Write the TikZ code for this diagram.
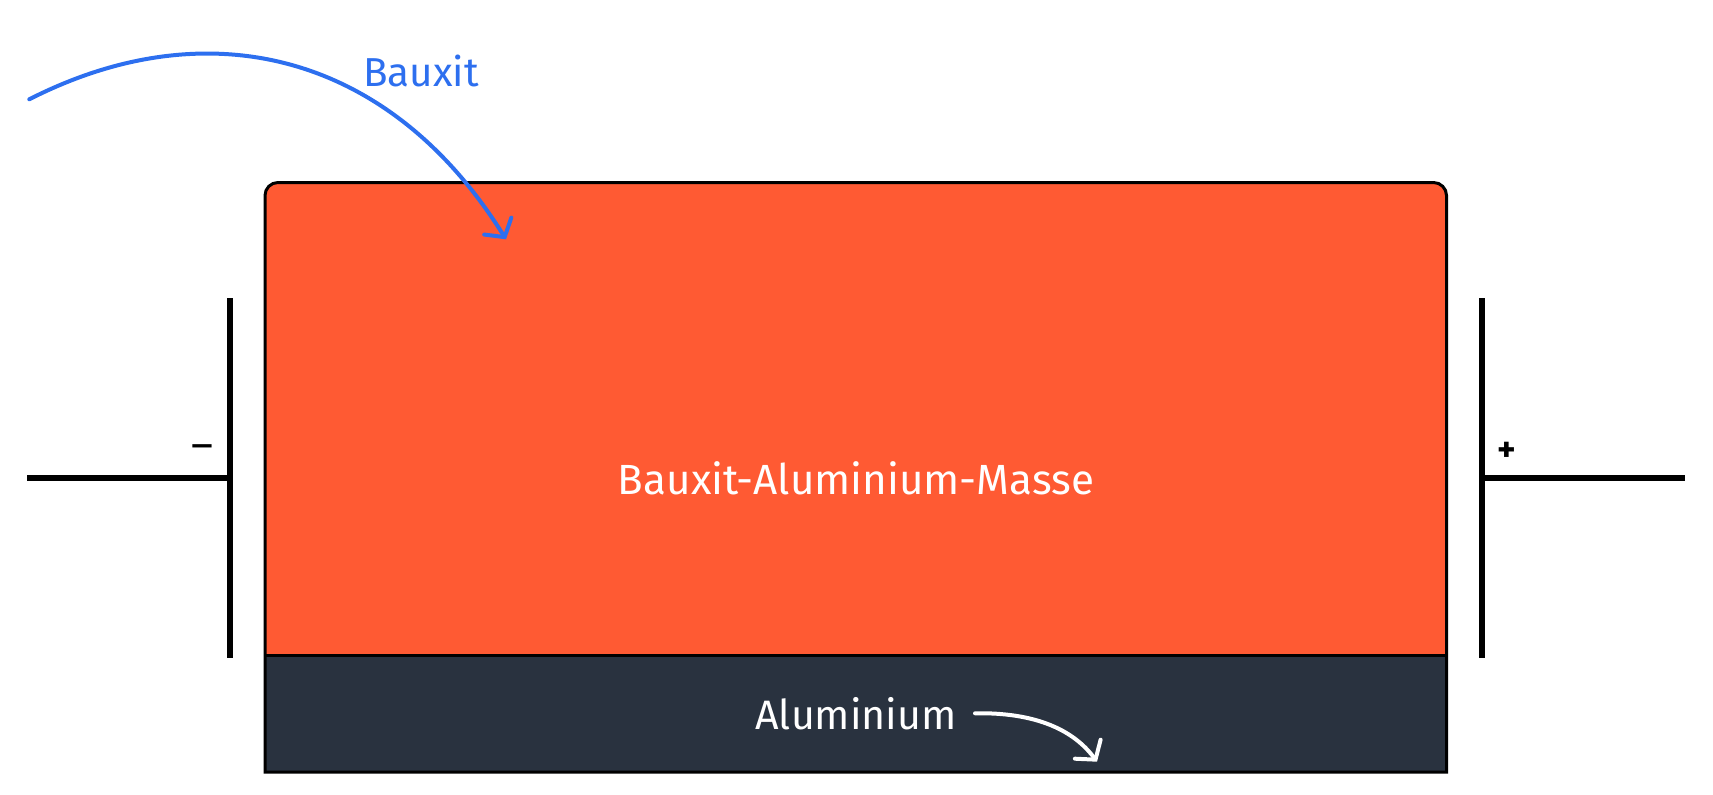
\documentclass[tikz,border=0pt]{standalone}
\usepackage{fontspec}
\setmainfont{Fira Sans}
\usepackage{tikz}
\usetikzlibrary{arrows.meta, positioning}
\definecolor{Melt}{HTML}{FF5A33}
\definecolor{Metal}{HTML}{29323F}
\definecolor{Feed}{HTML}{2D6FEF}

\begin{document}
\begin{tikzpicture}[>={Straight Barb[length=1.3mm, width=3.2mm, line cap=round]},
  electrode/.style={line width=0.06cm},
  flow/.style={->, line width=0.04cm, line cap=round},
  label/.style={inner sep=0pt, font=\fontsize{12}{14}\selectfont}]
  \useasboundingbox (0,0) rectangle (17.13,-7.94);

  % cell: melt on top, aluminium at the bottom
  \fill[Melt] (2.65,-6.555) [rounded corners=0.13cm] -- (2.65,-1.825)
    -- (14.465,-1.825) [sharp corners] -- (14.465,-6.555) -- cycle;
  \fill[Metal] (2.65,-7.72) rectangle (14.465,-6.555);
  \draw[line width=0.03cm] (2.65,-7.72) [rounded corners=0.13cm] -- (2.65,-1.825)
    -- (14.465,-1.825) [sharp corners] -- (14.465,-7.72) -- cycle;
  \draw[line width=0.03cm] (2.65,-6.555) -- (14.465,-6.555);

  % electrodes
  \coordinate (cathtop) at (2.30,-2.98);
  \coordinate (cathbot) at (2.30,-6.58);
  \coordinate (cathmid) at (2.30,-4.78);
  \coordinate (cathlead) at (0.27,-4.78);
  \coordinate (anotop) at (14.82,-2.98);
  \coordinate (anobot) at (14.82,-6.58);
  \coordinate (anomid) at (14.82,-4.78);
  \coordinate (anolead) at (16.85,-4.78);
  \draw[electrode] (cathtop) -- (cathbot);
  \draw[electrode] (cathlead) -- (cathmid);
  \draw[electrode] (anotop) -- (anobot);
  \draw[electrode] (anomid) -- (anolead);
  \node[font=\fontsize{12}{12}\selectfont] (minus) at (2.02,-4.52) {–};
  \node[font=\bfseries\fontsize{10}{12}\selectfont] (plus) at (15.07,-4.52) {+};

  % texts
  \node[label, white] (mass) at (8.56,-4.785) {Bauxit-Aluminium-Masse};
  \node[label, white, font=\fontsize{11.7}{13}\selectfont] (alu) at (8.56,-7.137) {Aluminium};
  \node[label, Feed, font=\fontsize{11.5}{13}\selectfont] (feed) at (4.21,-0.708) {Bauxit};

  % arrows
  \coordinate (feedstart) at (0.293,-0.993);
  \coordinate (feedend) at (5.06,-2.393);
  \draw[flow, Feed] (feedstart) .. controls (2.075,-0.085) and (3.894,-0.523) .. (feedend);
  \coordinate (alustart) at (9.75,-7.133);
  \coordinate (aluend) at (10.97,-7.617);
  \draw[flow, white] (alustart) .. controls (10.45,-7.12) and (10.78,-7.36) .. (aluend);
\end{tikzpicture}
\end{document}
